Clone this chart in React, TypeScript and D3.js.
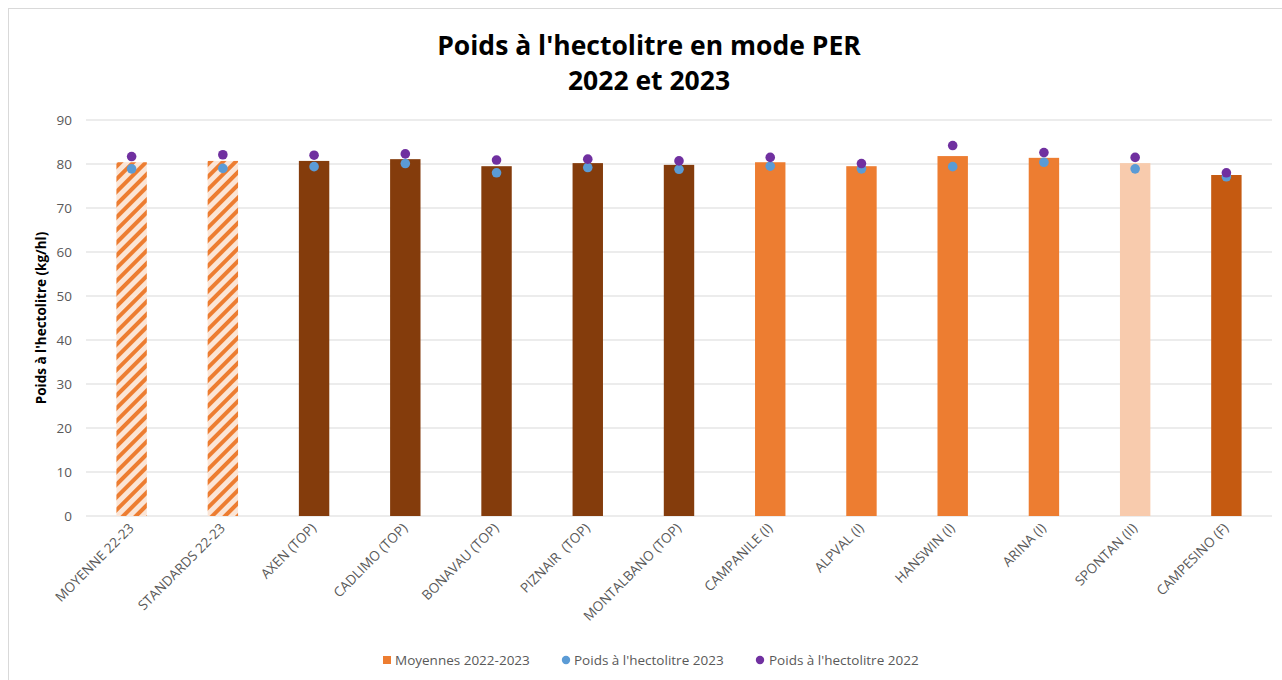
import React from "react";
import * as d3 from "d3";

const categories = [
  "MOYENNE 22-23",
  "STANDARDS 22-23",
  "AXEN (TOP)",
  "CADLIMO (TOP)",
  "BONAVAU (TOP)",
  "PIZNAIR  (TOP)",
  "MONTALBANO (TOP)",
  "CAMPANILE (I)",
  "ALPVAL (I)",
  "HANSWIN (I)",
  "ARINA (I)",
  "SPONTAN (II)",
  "CAMPESINO (F)",
];
const moyennes = [80.4, 80.7, 80.7, 81.1, 79.5, 80.2, 79.8, 80.4, 79.5, 81.8, 81.4, 80.2, 77.5];
const poids2023 = [78.9, 79.0, 79.4, 80.1, 78.0, 79.2, 78.8, 79.5, 78.9, 79.4, 80.4, 78.9, 77.1];
const poids2022 = [81.7, 82.1, 82.0, 82.3, 80.9, 81.1, 80.7, 81.5, 80.1, 84.2, 82.6, 81.5, 78.0];
const yTicks = [0, 10, 20, 30, 40, 50, 60, 70, 80, 90];

const barFills = [
  "url(#hatch)", "url(#hatch)",
  "#843C0C", "#843C0C", "#843C0C", "#843C0C", "#843C0C",
  "#ED7D31", "#ED7D31", "#ED7D31", "#ED7D31",
  "#F8CBAD", "#C55A11",
];

const W = 1282;
const H = 680;
const left = 86;
const right = 1272;
const top = 120;
const bottom = 516;
const font = "'Open Sans', 'Noto Sans', sans-serif";

export default function App() {
  const x = d3.scaleBand<string>().domain(categories).range([left, right]).paddingInner(2 / 3).paddingOuter(1 / 3);
  const y = d3.scaleLinear().domain([0, 90]).range([bottom, top]);
  const bw = x.bandwidth();
  const cx = (c: string) => (x(c) as number) + bw / 2;

  return (
    <svg width={W} height={H} style={{ position: "absolute", left: 0, top: 0, background: "#fff" }} fontFamily={font}>
      <defs>
        <pattern id="hatch" patternUnits="userSpaceOnUse" width={9} height={9} patternTransform="rotate(45)">
          <rect width={9} height={9} fill="#FBE5D6" />
          <rect width={4} height={9} fill="#ED7D31" />
        </pattern>
      </defs>
      <rect x={8.5} y={8.5} width={W} height={H} fill="#fff" stroke="#D9D9D9" />

      <text x={649} y={55} textAnchor="middle" fontSize={26.5} fontWeight="bold" fill="#000">
        Poids à l'hectolitre en mode PER
      </text>
      <text x={649} y={90} textAnchor="middle" fontSize={26.5} fontWeight="bold" fill="#000">
        2022 et 2023
      </text>

      {/* grid + y ticks */}
      {yTicks.map((t) => (
        <g key={t}>
          <line x1={left} x2={right} y1={y(t)} y2={y(t)} stroke="#D9D9D9" strokeWidth={1} />
          <text x={72} y={y(t)} dy="0.35em" textAnchor="end" fontSize={13.5} fill="#595959">
            {t}
          </text>
        </g>
      ))}
      <text transform={`translate(46,${(top + bottom) / 2}) rotate(-90)`} textAnchor="middle" fontSize={13.5} fontWeight="bold" fill="#000">
        Poids à l'hectolitre (kg/hl)
      </text>

      {/* bars */}
      {categories.map((c, i) => (
        <rect key={c} x={x(c)} y={y(moyennes[i])} width={bw} height={y(0) - y(moyennes[i])} fill={barFills[i]} />
      ))}

      {/* points */}
      {categories.map((c, i) => (
        <circle key={"b" + c} cx={cx(c)} cy={y(poids2023[i])} r={4.8} fill="#5B9BD5" />
      ))}
      {categories.map((c, i) => (
        <circle key={"p" + c} cx={cx(c)} cy={y(poids2022[i])} r={4.8} fill="#7030A0" />
      ))}

      {/* x labels */}
      {categories.map((c) => (
        <text
          key={"l" + c}
          transform={`translate(${cx(c) + 3},${bottom + 13}) rotate(-45)`}
          textAnchor="end"
          fontSize={13.5}
          fill="#595959"
          style={{ whiteSpace: "pre" }}
        >
          {c}
        </text>
      ))}

      {/* legend */}
      <g fontSize={13.5} fill="#595959">
        <rect x={383} y={656} width={8} height={8} fill="#ED7D31" />
        <text x={395} y={660} dy="0.35em">Moyennes 2022-2023</text>
        <circle cx={566} cy={660} r={4.2} fill="#5B9BD5" />
        <text x={574} y={660} dy="0.35em">Poids à l'hectolitre 2023</text>
        <circle cx={760} cy={660} r={4.2} fill="#7030A0" />
        <text x={769} y={660} dy="0.35em">Poids à l'hectolitre 2022</text>
      </g>
    </svg>
  );
}
